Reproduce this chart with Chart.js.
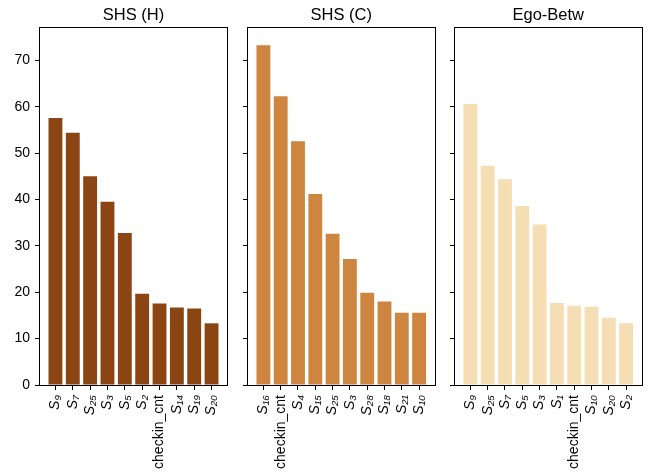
<!DOCTYPE html>
<html>
<head>
<meta charset="utf-8">
<script src="https://cdn.jsdelivr.net/npm/chart.js@4/dist/chart.umd.min.js"></script>
<style>
  body { margin: 0; background: #fff; }
  #wrap { position: relative; width: 652px; height: 472px; overflow: hidden; }
  canvas { position: absolute; top: 0; }
</style>
</head>
<body>
<div id="wrap">
  <canvas id="c1" width="237" height="472" style="left:0px"></canvas>
  <canvas id="c2" width="207" height="472" style="left:237px"></canvas>
  <canvas id="c3" width="208" height="472" style="left:444px"></canvas>
</div>
<script>
// data
const titles = ['SHS (H)', 'SHS (C)', 'Ego-Betw'];

const hLabels = ['S₉', 'S₇', 'S₂₅', 'S₃', 'S₅', 'S₂', 'checkin_cnt', 'S₁₄', 'S₁₉', 'S₂₀'];
const hValues = [57.6, 54.4, 45.0, 39.5, 32.8, 19.7, 17.6, 16.7, 16.5, 13.3];

const cLabels = ['S₁₆', 'checkin_cnt', 'S₄', 'S₁₅', 'S₂₅', 'S₃', 'S₂₈', 'S₁₈', 'S₂₁', 'S₁₀'];
const cValues = [73.3, 62.3, 52.6, 41.2, 32.6, 27.2, 19.9, 18.0, 15.6, 15.6];

const eLabels = ['S₉', 'S₂₅', 'S₇', 'S₅', 'S₃', 'S₁', 'checkin_cnt', 'S₁₀', 'S₂₀', 'S₂'];
const eValues = [60.6, 47.3, 44.4, 38.6, 34.6, 17.7, 17.1, 16.9, 14.5, 13.3];

const yTicks = [0, 10, 20, 30, 40, 50, 60, 70];
const yMax = 77;

const colors = ['#8B4513', '#CD853F', '#F5DEB3'];
const FONT = "'Liberation Sans', Arial, sans-serif";

// frame around the plot area (matplotlib style box)
const framePlugin = {
    id: 'frame',
    afterDraw(chart) {
        const a = chart.chartArea;
        const ctx = chart.ctx;
        ctx.save();
        ctx.strokeStyle = '#000';
        ctx.lineWidth = 1;
        ctx.strokeRect(Math.round(a.left) - 0.5, Math.round(a.top) - 0.5,
            Math.round(a.right - a.left) + 1, Math.round(a.bottom - a.top) + 1);
        ctx.restore();
    }
};

function makePanel(id, title, labels, values, color, yWidth, padRight, showY) {
    const n = labels.length;
    const ctx = document.getElementById(id).getContext('2d');
    return new Chart(ctx, {
        type: 'bar',
        data: {
            datasets: [{
                data: labels.map((l, i) => ({ x: i, y: values[i] })),
                backgroundColor: color,
                borderWidth: 0,
                categoryPercentage: 1.0,
                barPercentage: 0.8
            }]
        },
        options: {
            responsive: false,
            animation: false,
            layout: { padding: { left: 0, right: padRight, top: 0, bottom: 0 } },
            plugins: {
                legend: { display: false },
                tooltip: { enabled: false },
                title: {
                    display: true,
                    text: title,
                    fullSize: false,
                    color: '#000',
                    font: { family: FONT, size: 16.5, weight: 'normal' },
                    padding: { top: 6, bottom: 2.2 }
                }
            },
            scales: {
                x: {
                    type: 'linear',
                    offset: false,
                    min: -0.89,
                    max: n - 1 + 0.89,
                    afterBuildTicks: s => { s.ticks = labels.map((l, i) => ({ value: i })); },
                    afterFit: s => { s.height = 87; },
                    grid: { display: true, offset: false, drawOnChartArea: false, drawTicks: true, tickLength: 5, color: '#000' },
                    border: { display: false },
                    ticks: {
                        autoSkip: false,
                        minRotation: 90,
                        maxRotation: 90,
                        padding: 5,
                        color: '#000',
                        callback: v => labels[v],
                        font: c => ({
                            family: FONT,
                            size: 14,
                            style: (c.tick && String(c.tick.label).startsWith('S')) ? 'italic' : 'normal'
                        })
                    }
                },
                y: {
                    min: 0,
                    max: yMax,
                    afterBuildTicks: s => { s.ticks = yTicks.map(v => ({ value: v })); },
                    afterFit: s => { s.width = yWidth; },
                    grid: { display: true, drawOnChartArea: false, drawTicks: true, tickLength: 5, color: '#000' },
                    border: { display: false },
                    ticks: {
                        display: showY,
                        padding: 5,
                        color: '#000',
                        font: { family: FONT, size: 14 }
                    }
                }
            }
        },
        plugins: [framePlugin]
    });
}

makePanel('c1', titles[0], hLabels, hValues, colors[0], 40, 10, true);
makePanel('c2', titles[1], cLabels, cValues, colors[1], 11, 9.5, false);
makePanel('c3', titles[2], eLabels, eValues, colors[2], 11, 10.5, false);
</script>
</body>
</html>
